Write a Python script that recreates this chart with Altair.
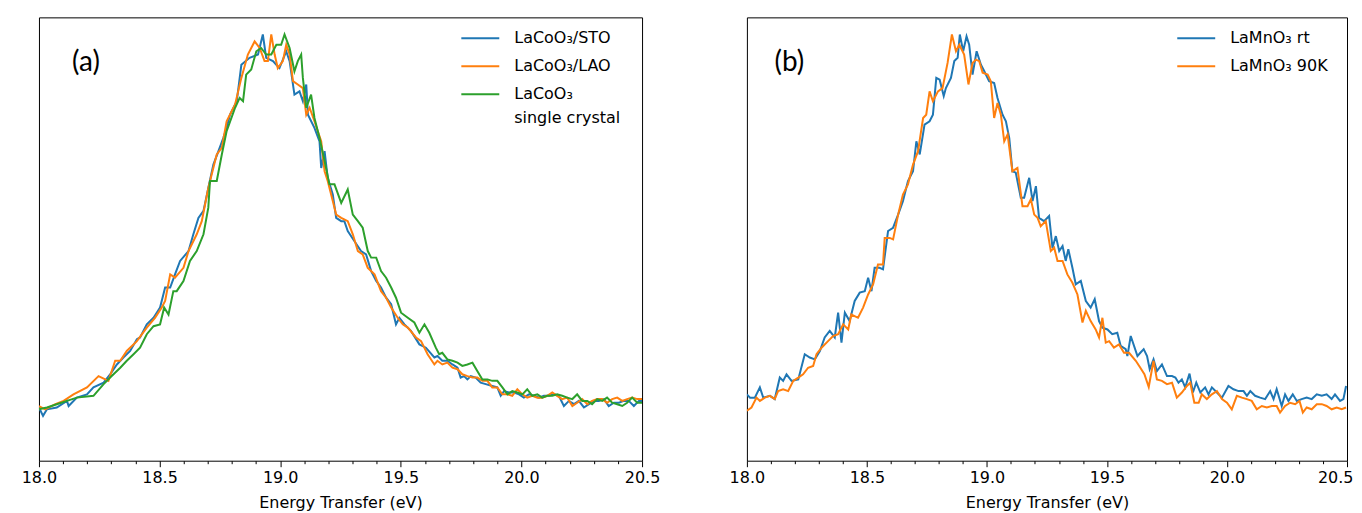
import altair as alt
import pandas as pd

# ---------------- data (normalised intensity) ----------------
A_STO = [(18.000, -0.018), (18.017, -0.041), (18.033, -0.023), (18.074, -0.018), (18.116, 0.000), (18.123, -0.014),
         (18.157, 0.009), (18.199, 0.018), (18.226, 0.037), (18.268, 0.050), (18.295, 0.073), (18.323, 0.100),
         (18.350, 0.119), (18.378, 0.137), (18.406, 0.169), (18.419, 0.174), (18.447, 0.210), (18.475, 0.228),
         (18.502, 0.256), (18.523, 0.311), (18.544, 0.311), (18.564, 0.347), (18.585, 0.384), (18.620, 0.411),
         (18.640, 0.457), (18.661, 0.502), (18.682, 0.521), (18.702, 0.584), (18.723, 0.648), (18.744, 0.685),
         (18.764, 0.721), (18.778, 0.749), (18.792, 0.785), (18.820, 0.822), (18.839, 0.922), (18.873, 0.941),
         (18.908, 0.950), (18.928, 1.005), (18.942, 0.941), (18.970, 0.932), (18.984, 0.922), (18.997, 0.913),
         (19.025, 0.959), (19.039, 0.932), (19.059, 0.840), (19.080, 0.849), (19.094, 0.822), (19.108, 0.868),
         (19.115, 0.785), (19.142, 0.749), (19.163, 0.712), (19.170, 0.639), (19.184, 0.685), (19.197, 0.612),
         (19.218, 0.566), (19.232, 0.502), (19.253, 0.493), (19.266, 0.493), (19.280, 0.466), (19.308, 0.438),
         (19.335, 0.411), (19.356, 0.402), (19.377, 0.356), (19.398, 0.329), (19.418, 0.311), (19.439, 0.283),
         (19.460, 0.265), (19.480, 0.210), (19.494, 0.228), (19.515, 0.210), (19.542, 0.192), (19.577, 0.155),
         (19.604, 0.146), (19.639, 0.119), (19.652, 0.123), (19.672, 0.110), (19.693, 0.110), (19.714, 0.100),
         (19.735, 0.091), (19.748, 0.064), (19.762, 0.068), (19.776, 0.059), (19.790, 0.068), (19.810, 0.064),
         (19.831, 0.050), (19.852, 0.046), (19.879, 0.041), (19.900, 0.037), (19.914, 0.014), (19.928, 0.027),
         (19.948, 0.023), (19.969, 0.023), (19.990, 0.018), (20.010, 0.009), (20.031, 0.018), (20.052, 0.014),
         (20.073, 0.009), (20.093, 0.014), (20.114, 0.014), (20.135, 0.018), (20.155, 0.014), (20.176, -0.014),
         (20.197, 0.000), (20.218, -0.009), (20.238, 0.000), (20.259, -0.018), (20.280, -0.009), (20.300, 0.000),
         (20.321, 0.000), (20.342, 0.005), (20.362, -0.014), (20.383, -0.005), (20.404, -0.005), (20.424, 0.000),
         (20.445, 0.000), (20.466, -0.014), (20.487, 0.000), (20.500, 0.000)]

A_LAO = [(18.000, -0.014), (18.026, -0.023), (18.068, -0.009), (18.102, 0.000), (18.143, 0.018), (18.199, 0.037),
         (18.247, 0.068), (18.288, 0.055), (18.316, 0.110), (18.337, 0.110), (18.364, 0.137), (18.406, 0.164),
         (18.447, 0.201), (18.481, 0.228), (18.509, 0.256), (18.523, 0.274), (18.544, 0.347), (18.564, 0.338),
         (18.599, 0.365), (18.620, 0.411), (18.654, 0.457), (18.675, 0.493), (18.702, 0.584), (18.730, 0.658),
         (18.737, 0.676), (18.758, 0.694), (18.778, 0.767), (18.813, 0.813), (18.839, 0.886), (18.866, 0.950),
         (18.894, 0.986), (18.915, 0.968), (18.935, 0.932), (18.949, 0.932), (18.963, 1.005), (18.977, 0.950),
         (18.990, 0.913), (19.011, 0.932), (19.025, 0.977), (19.039, 0.950), (19.053, 0.877), (19.073, 0.868),
         (19.094, 0.858), (19.108, 0.785), (19.122, 0.804), (19.142, 0.767), (19.170, 0.712), (19.184, 0.630),
         (19.197, 0.603), (19.218, 0.548), (19.232, 0.511), (19.253, 0.502), (19.280, 0.493), (19.301, 0.457),
         (19.322, 0.411), (19.342, 0.402), (19.363, 0.365), (19.391, 0.347), (19.418, 0.301), (19.439, 0.283),
         (19.460, 0.256), (19.487, 0.228), (19.508, 0.210), (19.529, 0.201), (19.563, 0.174), (19.584, 0.164),
         (19.611, 0.128), (19.639, 0.100), (19.652, 0.110), (19.672, 0.100), (19.693, 0.105), (19.714, 0.091),
         (19.735, 0.087), (19.755, 0.073), (19.776, 0.068), (19.797, 0.064), (19.817, 0.064), (19.838, 0.055),
         (19.859, 0.055), (19.879, 0.037), (19.900, 0.037), (19.921, 0.018), (19.942, 0.018), (19.962, 0.014),
         (19.983, 0.032), (20.004, 0.018), (20.024, 0.009), (20.045, 0.014), (20.066, 0.009), (20.086, 0.009),
         (20.107, 0.014), (20.128, 0.023), (20.148, 0.014), (20.169, 0.005), (20.190, 0.009), (20.211, -0.014),
         (20.231, -0.005), (20.252, 0.005), (20.273, -0.009), (20.293, 0.000), (20.314, 0.005), (20.335, 0.005),
         (20.355, -0.005), (20.376, 0.005), (20.397, 0.009), (20.418, 0.000), (20.438, 0.005), (20.459, 0.009),
         (20.480, 0.005), (20.500, 0.005)]

A_SC = [(18.000, -0.023), (18.033, -0.018), (18.074, -0.009), (18.116, 0.000), (18.157, 0.009), (18.226, 0.014),
        (18.268, 0.046), (18.295, 0.064), (18.337, 0.091), (18.364, 0.110), (18.392, 0.128), (18.419, 0.146),
        (18.447, 0.183), (18.475, 0.205), (18.502, 0.210), (18.519, 0.256), (18.537, 0.237), (18.557, 0.301),
        (18.571, 0.301), (18.599, 0.329), (18.626, 0.384), (18.654, 0.411), (18.682, 0.457), (18.702, 0.530),
        (18.709, 0.603), (18.737, 0.603), (18.758, 0.676), (18.778, 0.740), (18.813, 0.804), (18.832, 0.831),
        (18.846, 0.822), (18.859, 0.895), (18.880, 0.909), (18.901, 0.959), (18.921, 0.968), (18.942, 0.950),
        (18.963, 0.950), (18.984, 0.977), (19.004, 0.977), (19.018, 1.005), (19.039, 0.968), (19.059, 0.904),
        (19.073, 0.932), (19.087, 0.950), (19.094, 0.886), (19.108, 0.804), (19.128, 0.840), (19.142, 0.776),
        (19.163, 0.721), (19.184, 0.658), (19.204, 0.594), (19.225, 0.594), (19.253, 0.543), (19.280, 0.580),
        (19.301, 0.511), (19.322, 0.493), (19.342, 0.475), (19.363, 0.411), (19.377, 0.393), (19.398, 0.393),
        (19.418, 0.356), (19.439, 0.338), (19.460, 0.311), (19.480, 0.283), (19.501, 0.242), (19.529, 0.228),
        (19.556, 0.215), (19.577, 0.187), (19.598, 0.210), (19.618, 0.187), (19.645, 0.146), (19.659, 0.128),
        (19.672, 0.132), (19.693, 0.114), (19.714, 0.110), (19.735, 0.105), (19.755, 0.096), (19.776, 0.100),
        (19.797, 0.105), (19.817, 0.082), (19.838, 0.059), (19.859, 0.059), (19.879, 0.055), (19.900, 0.055),
        (19.921, 0.037), (19.942, 0.018), (19.962, 0.027), (19.983, 0.023), (20.004, 0.018), (20.024, 0.032),
        (20.045, 0.014), (20.066, 0.018), (20.086, 0.009), (20.107, 0.014), (20.128, 0.014), (20.148, 0.018),
        (20.169, 0.014), (20.190, 0.009), (20.211, 0.005), (20.231, 0.018), (20.252, 0.000), (20.273, 0.000),
        (20.293, -0.009), (20.314, 0.005), (20.335, 0.000), (20.355, 0.009), (20.376, -0.005), (20.397, -0.009),
        (20.418, -0.014), (20.438, -0.005), (20.459, 0.009), (20.480, -0.005), (20.500, -0.005)]

B_RT = [(18.000, 0.018), (18.013, 0.009), (18.033, 0.009), (18.054, 0.037), (18.068, 0.009), (18.096, 0.014),
        (18.116, 0.005), (18.137, 0.064), (18.151, 0.055), (18.165, 0.073), (18.186, 0.055), (18.214, 0.059),
        (18.241, 0.128), (18.262, 0.119), (18.283, 0.114), (18.304, 0.137), (18.324, 0.174), (18.345, 0.192),
        (18.366, 0.174), (18.380, 0.242), (18.394, 0.160), (18.408, 0.242), (18.428, 0.219), (18.449, 0.274),
        (18.470, 0.297), (18.491, 0.301), (18.505, 0.338), (18.519, 0.301), (18.532, 0.365), (18.553, 0.365),
        (18.567, 0.361), (18.588, 0.466), (18.609, 0.475), (18.630, 0.511), (18.650, 0.548), (18.671, 0.603),
        (18.692, 0.630), (18.706, 0.712), (18.720, 0.676), (18.740, 0.758), (18.761, 0.767), (18.775, 0.785),
        (18.789, 0.886), (18.803, 0.881), (18.820, 0.836), (18.829, 0.858), (18.850, 0.886), (18.864, 0.932),
        (18.878, 0.941), (18.887, 1.005), (18.901, 0.959), (18.915, 1.000), (18.926, 0.977), (18.940, 0.895),
        (18.957, 0.959), (18.975, 0.922), (18.989, 0.904), (19.009, 0.877), (19.030, 0.872), (19.044, 0.831),
        (19.065, 0.785), (19.079, 0.767), (19.093, 0.721), (19.106, 0.630), (19.120, 0.626), (19.141, 0.557),
        (19.155, 0.557), (19.176, 0.612), (19.190, 0.548), (19.204, 0.589), (19.217, 0.502), (19.238, 0.493),
        (19.259, 0.507), (19.273, 0.420), (19.287, 0.452), (19.301, 0.411), (19.315, 0.425), (19.328, 0.384),
        (19.339, 0.416), (19.356, 0.365), (19.370, 0.320), (19.391, 0.329), (19.412, 0.274), (19.432, 0.256),
        (19.449, 0.279), (19.467, 0.219), (19.481, 0.201), (19.502, 0.196), (19.522, 0.183), (19.543, 0.187),
        (19.557, 0.151), (19.578, 0.142), (19.585, 0.123), (19.599, 0.178), (19.627, 0.123), (19.639, 0.132),
        (19.653, 0.142), (19.667, 0.123), (19.678, 0.087), (19.694, 0.114), (19.708, 0.082), (19.729, 0.100),
        (19.750, 0.068), (19.771, 0.068), (19.785, 0.064), (19.798, 0.050), (19.812, 0.059), (19.826, 0.037),
        (19.844, 0.075), (19.858, 0.023), (19.872, 0.050), (19.889, 0.023), (19.909, 0.037), (19.923, 0.018),
        (19.937, 0.037), (19.958, 0.023), (19.979, 0.009), (20.006, 0.041), (20.027, 0.032), (20.048, 0.027),
        (20.069, 0.027), (20.083, 0.014), (20.097, 0.027), (20.117, 0.014), (20.138, 0.009), (20.159, 0.005),
        (20.180, 0.027), (20.194, 0.005), (20.207, 0.032), (20.228, -0.014), (20.242, 0.018), (20.256, 0.000),
        (20.274, 0.018), (20.291, 0.000), (20.311, 0.005), (20.332, 0.009), (20.353, 0.005), (20.374, 0.018),
        (20.395, 0.014), (20.415, 0.018), (20.436, 0.005), (20.450, 0.018), (20.471, 0.000), (20.485, 0.005),
        (20.496, 0.041)]

B_90K = [(18.000, -0.027), (18.019, -0.018), (18.040, 0.009), (18.054, 0.000), (18.075, 0.009), (18.096, 0.014),
         (18.116, 0.005), (18.130, 0.027), (18.151, 0.032), (18.172, 0.027), (18.193, 0.055), (18.214, 0.064),
         (18.234, 0.073), (18.255, 0.091), (18.276, 0.096), (18.290, 0.128), (18.311, 0.146), (18.338, 0.164),
         (18.359, 0.178), (18.380, 0.183), (18.401, 0.210), (18.422, 0.196), (18.435, 0.237), (18.463, 0.228),
         (18.484, 0.256), (18.505, 0.292), (18.526, 0.320), (18.546, 0.374), (18.567, 0.374), (18.574, 0.447),
         (18.595, 0.447), (18.609, 0.443), (18.630, 0.511), (18.650, 0.566), (18.671, 0.594), (18.692, 0.648),
         (18.713, 0.685), (18.734, 0.776), (18.747, 0.785), (18.761, 0.849), (18.775, 0.822), (18.796, 0.849),
         (18.815, 0.858), (18.836, 0.927), (18.854, 1.005), (18.871, 0.959), (18.885, 0.977), (18.905, 0.950),
         (18.923, 0.868), (18.940, 0.927), (18.954, 0.936), (18.968, 0.932), (18.982, 0.900), (19.003, 0.895),
         (19.016, 0.877), (19.030, 0.776), (19.044, 0.817), (19.058, 0.785), (19.072, 0.712), (19.086, 0.731),
         (19.106, 0.630), (19.127, 0.639), (19.148, 0.534), (19.169, 0.534), (19.183, 0.553), (19.197, 0.511),
         (19.211, 0.502), (19.224, 0.479), (19.245, 0.493), (19.266, 0.411), (19.280, 0.420), (19.294, 0.384),
         (19.315, 0.384), (19.335, 0.347), (19.356, 0.324), (19.377, 0.292), (19.398, 0.215), (19.412, 0.247),
         (19.432, 0.219), (19.453, 0.196), (19.467, 0.174), (19.481, 0.228), (19.495, 0.160), (19.509, 0.164),
         (19.529, 0.146), (19.550, 0.155), (19.571, 0.132), (19.592, 0.132), (19.620, 0.110), (19.639, 0.091),
         (19.656, 0.073), (19.674, 0.038), (19.694, 0.110), (19.708, 0.059), (19.729, 0.055), (19.750, 0.046),
         (19.771, 0.050), (19.791, 0.009), (19.812, 0.023), (19.833, 0.041), (19.847, 0.050), (19.864, -0.005),
         (19.882, -0.005), (19.895, 0.018), (19.916, 0.005), (19.937, 0.018), (19.958, 0.027), (19.979, 0.005),
         (20.000, -0.005), (20.020, -0.023), (20.041, 0.014), (20.062, 0.009), (20.083, 0.005), (20.103, 0.000),
         (20.124, -0.023), (20.145, -0.014), (20.166, -0.018), (20.187, -0.014), (20.207, -0.014), (20.221, -0.032),
         (20.242, -0.014), (20.263, -0.005), (20.284, -0.009), (20.302, 0.000), (20.316, -0.032), (20.332, -0.018),
         (20.353, -0.023), (20.374, -0.009), (20.395, -0.009), (20.415, -0.014), (20.436, -0.023), (20.457, -0.018),
         (20.478, -0.023), (20.496, -0.018)]

A_NAMES = ["LaCoO₃/STO", "LaCoO₃/LAO", "LaCoO₃ single crystal"]
B_NAMES = ["LaMnO₃ rt", "LaMnO₃ 90K"]
A_COLORS = ["#1f77b4", "#ff7f0e", "#2ca02c"]
B_COLORS = ["#1f77b4", "#ff7f0e"]
X_MAJOR = [18.0, 18.5, 19.0, 19.5, 20.0, 20.5]
X_MINOR = [18.1, 18.2, 18.3, 18.4, 18.6, 18.7, 18.8, 18.9, 19.1, 19.2, 19.3, 19.4,
           19.6, 19.7, 19.8, 19.9, 20.1, 20.2, 20.3, 20.4]
X_DOMAIN = [18.0, 20.5]
Y_DOMAIN = [-0.164, 1.052]
PANEL_LABELS = {"a": ("(a)", 18.195, 0.926), "b": ("(b)", 18.177, 0.926)}


def frame(series, names):
    rows = []
    for pairs, name in zip(series, names):
        for e, i in pairs:
            rows.append({"E": e, "I": i, "s": name})
    return pd.DataFrame(rows)


dfA = frame([A_STO, A_LAO, A_SC], A_NAMES)
dfB = frame([B_RT, B_90K], B_NAMES)

FONT = "DejaVu Sans"
x_scale = alt.Scale(domain=X_DOMAIN, nice=False, zero=False)
y_scale = alt.Scale(domain=Y_DOMAIN, nice=False, zero=False)


def make_x_axis(last_label_right):
    kw = dict(
        values=X_MAJOR, format=".1f", title="Energy Transfer (eV)", grid=False, domain=False,
        orient="bottom", tickSize=6, tickColor="black", tickWidth=1, labelFont=FONT, titleFont=FONT,
        labelFontSize=16, titleFontSize=16, labelColor="black", titleColor="black",
        titleFontWeight="normal", labelPadding=3, titlePadding=9, labelFlush=False,
        labelOverlap=False,
    )
    if last_label_right:
        kw["labelAlign"] = {"condition": {"test": "datum.value >= 20.49", "value": "right"},
                            "value": "center"}
        kw["labelOffset"] = {"condition": {"test": "datum.value >= 20.49", "value": 6},
                             "value": 0}
    return alt.Axis(**kw)


minor_axis = alt.Axis(
    values=X_MINOR, orient="bottom", labels=False, title=None, grid=False, domain=False,
    tickSize=3, tickColor="black", tickWidth=1,
)
y_axis = alt.Axis(
    title="Intensity (arb. units)", labels=False, ticks=False, domain=False, grid=False,
    titleFont=FONT, titleFontSize=16, titleFontWeight="normal", titleColor="black",
    titlePadding=11,
)


def panel(df, names, colors, key, width, legend_x, multiline_expr, x_axis):
    leg_kwargs = dict(
        orient="none", legendX=legend_x, legendY=1, title=None, symbolType="stroke",
        symbolSize=1444, symbolStrokeWidth=2, labelFont=FONT, labelFontSize=16,
        labelColor="black", rowPadding=-3, padding=0, labelOffset=14, labelLimit=400,
    )
    if multiline_expr:
        leg_kwargs["labelExpr"] = multiline_expr
    lines = alt.Chart(df).mark_line(strokeWidth=2, clip=True).encode(
        x=alt.X("E:Q", scale=x_scale, axis=x_axis),
        y=alt.Y("I:Q", scale=y_scale, axis=y_axis),
        color=alt.Color("s:N", scale=alt.Scale(domain=names, range=colors), sort=names,
                        legend=alt.Legend(**leg_kwargs)),
    )
    minor = alt.Chart(pd.DataFrame({"E": X_MINOR})).mark_point(opacity=0, size=0).encode(
        x=alt.X("E:Q", scale=x_scale, axis=minor_axis)
    )
    txt, lx, ly = PANEL_LABELS[key]
    lab = alt.Chart(pd.DataFrame({"t": [txt], "E": [lx], "I": [ly]})).mark_text(
        font="Lato", fontSize=28, color="black", align="center", baseline="middle"
    ).encode(x=alt.X("E:Q", scale=x_scale, axis=None), y=alt.Y("I:Q", scale=y_scale, axis=None), text="t:N")
    return (
        alt.layer(lines, minor, lab)
        .resolve_axis(x="independent")
        .properties(width=width, height=444)
    )


exprA = ("datum.label == 'LaCoO₃ single crystal' ? ['LaCoO₃', '\u00a0single crystal'] : datum.label")
chartA = panel(dfA, A_NAMES, A_COLORS, "a", 604, 422, exprA, make_x_axis(False))
chartB = panel(dfB, B_NAMES, B_COLORS, "b", 601, 430, None, make_x_axis(True))

chart = (
    alt.hconcat(chartA, chartB, spacing=67)
    .resolve_scale(color="independent")
    .configure(style={"guide-label": {"lineHeight": 24}})
    .configure_view(stroke="black", strokeWidth=1)
    .properties(padding={"left": 12, "top": 8, "right": 0, "bottom": 0}, background="white")
)

chart.save("out.html", embed_options={"renderer": "svg", "actions": False})
